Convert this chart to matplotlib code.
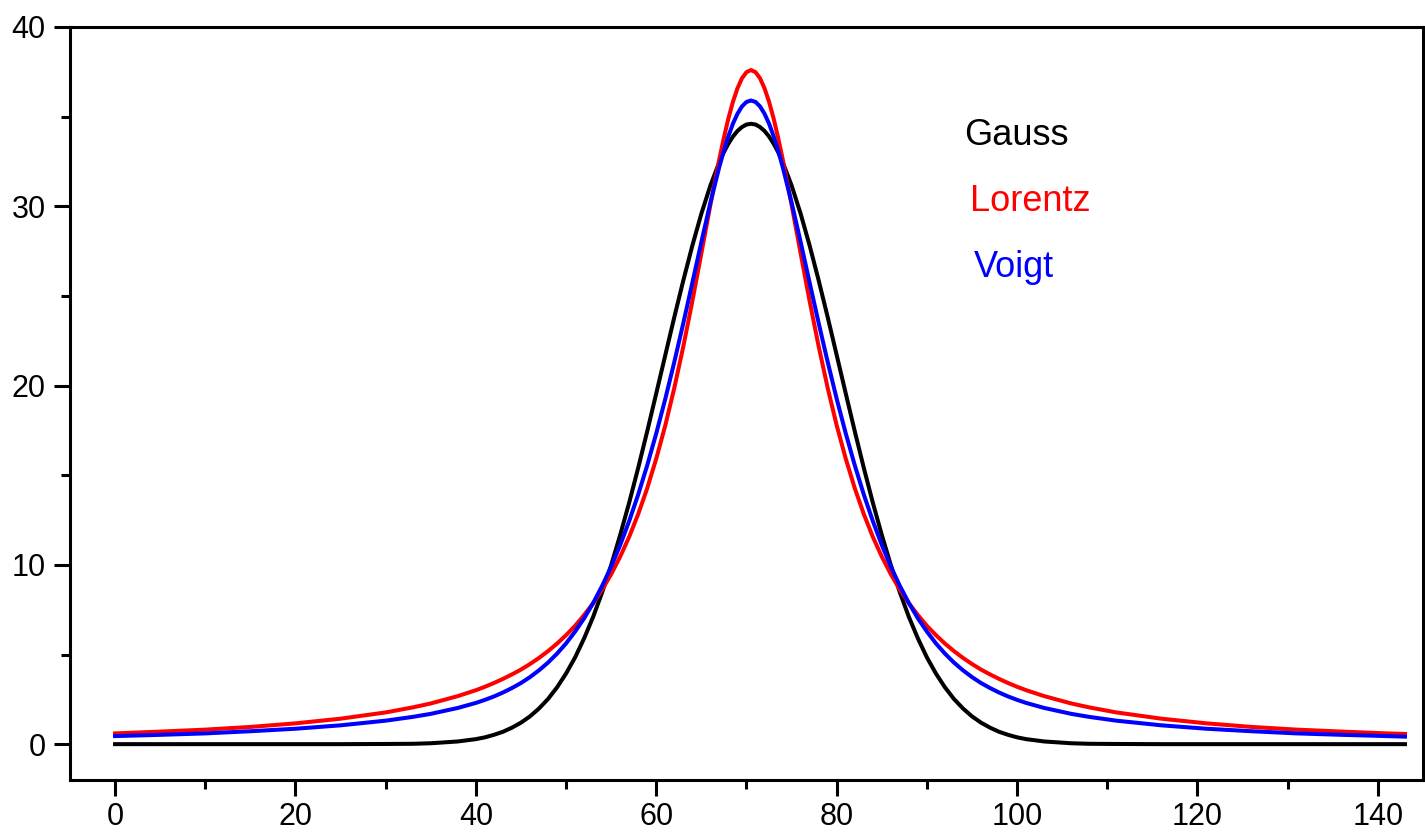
import matplotlib
matplotlib.use("Agg")
import matplotlib.pyplot as plt
from matplotlib.ticker import MultipleLocator

plt.rcParams['font.family'] = ['Liberation Sans', 'DejaVu Sans']

x = [0, 5, 10, 15, 20, 25, 30, 33, 35, 38, 40, 41, 42, 43, 44, 45, 46, 47, 48, 49,
     50, 51, 52, 53, 54, 55, 56, 57, 58, 59, 60, 61, 62, 63, 64, 65, 66, 67, 67.5,
     68, 68.5, 69, 69.5, 70, 70.5, 71, 71.5, 72, 72.5, 73, 73.5, 74, 75, 76, 77, 78,
     79, 80, 81, 82, 83, 84, 85, 86, 87, 88, 89, 90, 91, 92, 93, 94, 95, 96, 97, 98,
     99, 100, 101, 103, 106, 108, 111, 116, 121, 126, 131, 136, 141, 143]

gauss = [0.00, 0.00, 0.00, 0.00, 0.00, 0.00, 0.01, 0.02, 0.05, 0.15, 0.28, 0.38, 0.52,
         0.69, 0.92, 1.20, 1.55, 1.99, 2.52, 3.17, 3.94, 4.84, 5.90, 7.10, 8.47, 9.99,
         11.67, 13.48, 15.42, 17.46, 19.57, 21.70, 23.82, 25.87, 27.81, 29.59, 31.16,
         32.48, 33.03, 33.50, 33.89, 34.20, 34.42, 34.56, 34.60, 34.56, 34.42, 34.20,
         33.89, 33.50, 33.03, 32.48, 31.16, 29.59, 27.81, 25.87, 23.82, 21.70, 19.57,
         17.46, 15.42, 13.48, 11.67, 9.99, 8.47, 7.10, 5.90, 4.84, 3.94, 3.17, 2.52,
         1.99, 1.55, 1.20, 0.92, 0.69, 0.52, 0.38, 0.28, 0.15, 0.05, 0.02, 0.01, 0.00,
         0.00, 0.00, 0.00, 0.00, 0.00, 0.00]

lorentz = [0.60, 0.70, 0.81, 0.96, 1.16, 1.42, 1.77, 2.05, 2.27, 2.68, 3.01, 3.20, 3.41,
           3.64, 3.89, 4.16, 4.47, 4.81, 5.19, 5.61, 6.08, 6.60, 7.20, 7.86, 8.62, 9.48,
           10.46, 11.57, 12.84, 14.28, 15.93, 17.78, 19.87, 22.19, 24.71, 27.38, 30.08,
           32.66, 33.84, 34.91, 35.83, 36.58, 37.14, 37.48, 37.60, 37.48, 37.14, 36.58,
           35.83, 34.91, 33.84, 32.66, 30.08, 27.38, 24.71, 22.19, 19.87, 17.78, 15.93,
           14.28, 12.84, 11.57, 10.46, 9.48, 8.62, 7.86, 7.20, 6.60, 6.08, 5.61, 5.19,
           4.81, 4.47, 4.16, 3.89, 3.64, 3.41, 3.20, 3.01, 2.68, 2.27, 2.05, 1.77, 1.42,
           1.16, 0.96, 0.81, 0.70, 0.60, 0.57]

voigt = [0.45, 0.52, 0.60, 0.72, 0.86, 1.05, 1.31, 1.52, 1.69, 2.02, 2.30, 2.47, 2.66,
         2.88, 3.13, 3.41, 3.74, 4.12, 4.55, 5.05, 5.62, 6.28, 7.02, 7.87, 8.83, 9.90,
         11.11, 12.45, 13.93, 15.56, 17.34, 19.26, 21.32, 23.49, 25.74, 28.01, 30.21,
         32.22, 33.12, 33.92, 34.61, 35.16, 35.57, 35.82, 35.90, 35.82, 35.57, 35.16,
         34.61, 33.92, 33.12, 32.22, 30.21, 28.01, 25.74, 23.49, 21.32, 19.26, 17.34,
         15.56, 13.93, 12.45, 11.11, 9.90, 8.83, 7.87, 7.02, 6.28, 5.62, 5.05, 4.55,
         4.12, 3.74, 3.41, 3.13, 2.88, 2.66, 2.47, 2.30, 2.02, 1.69, 1.52, 1.31, 1.05,
         0.86, 0.72, 0.60, 0.52, 0.45, 0.42]

labels = ["Gauss", "Lorentz", "Voigt"]
colors = ["#000000", "#FF0000", "#0000FF"]
label_x = [94.1, 94.8, 95.2]
label_y = [33.95, 30.25, 26.6]

fig = plt.figure(figsize=(14.25, 8.38), dpi=100)
ax = fig.add_axes([0.0491, 0.0692, 0.9495, 0.8986])

for ys, c in zip([gauss, lorentz, voigt], colors):
    ax.plot(x, ys, color=c, linewidth=2.9, solid_joinstyle='round')

for t, c, tx, ty in zip(labels, colors, label_x, label_y):
    ax.text(tx, ty, t, color=c, fontsize=26, ha='left', va='center')

ax.set_xlim(-5, 145)
ax.set_ylim(-2, 40)
ax.xaxis.set_major_locator(MultipleLocator(20))
ax.xaxis.set_minor_locator(MultipleLocator(10))
ax.yaxis.set_major_locator(MultipleLocator(10))
ax.yaxis.set_minor_locator(MultipleLocator(5))

for s in ax.spines.values():
    s.set_linewidth(2.2)

ax.tick_params(which='both', direction='out', width=2.2, top=False, right=False,
               labelsize=22)
ax.tick_params(which='major', length=11.5)
ax.tick_params(which='minor', length=6.5)
ax.tick_params(axis='y', which='major', pad=6)
ax.tick_params(axis='x', which='major', pad=4)

fig.savefig("out.png", dpi=100)
